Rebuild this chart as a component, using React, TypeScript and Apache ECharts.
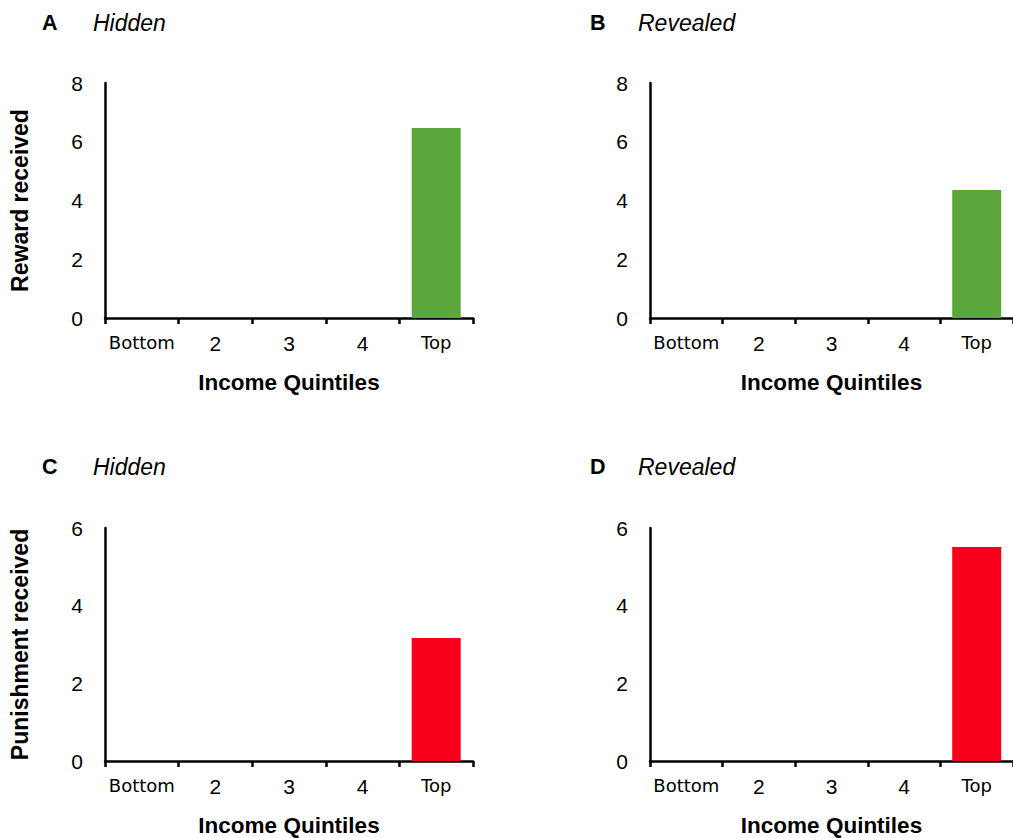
import React, { useEffect, useRef } from "react";
import * as echarts from "echarts";

const categories = ["Bottom", "2", "3", "4", "Top"];
const rewardHidden = [0, 0, 0, 0, 6.47];
const rewardRevealed = [0, 0, 0, 0, 4.36];
const punishHidden = [0, 0, 0, 0, 3.17];
const punishRevealed = [0, 0, 0, 0, 5.51];
const panelLetters = ["A", "B", "C", "D"];
const panelTitles = ["Hidden", "Revealed", "Hidden", "Revealed"];
const rewardTicksMax = 8;
const punishTicksMax = 6;

const GREEN = "#5BA73B";
const RED = "#F8001A";
const FONT = "'Liberation Sans', Arial, sans-serif";

export default function App() {
  const ref = useRef<HTMLDivElement>(null);
  useEffect(() => {
    document.body.style.margin = "0";
    const chart = echarts.init(ref.current!, null, { renderer: "svg" });
    const grids = [
      { left: 105, top: 83, width: 368, height: 235 },
      { left: 650, top: 83, width: 368, height: 235 },
      { left: 105, top: 528, width: 368, height: 233 },
      { left: 650, top: 528, width: 368, height: 234 },
    ];
    const data = [rewardHidden, rewardRevealed, punishHidden, punishRevealed];
    const colors = [GREEN, GREEN, RED, RED];
    const yNames = ["Reward received", "", "Punishment received", ""];
    const maxes = [rewardTicksMax, rewardTicksMax, punishTicksMax, punishTicksMax];

    const xAxis = grids.map((_, i) => ({
      type: "category",
      gridIndex: i,
      data: categories,
      boundaryGap: true,
      name: "Income Quintiles",
      nameLocation: "middle",
      nameGap: 53,
      nameTextStyle: { fontFamily: FONT, fontWeight: "bold", fontSize: 22.5, color: "#000" },
      axisLine: { show: true, lineStyle: { color: "#000", width: 2.5 } },
      axisTick: { show: true, length: 6, lineStyle: { color: "#000", width: 2.5 }, alignWithLabel: false },
      axisLabel: {
        margin: 15,
        interval: 0,
        formatter: (v: string) => (v === "Bottom" || v === "Top" ? `{w|${v}}` : `{n|${v}}`),
        rich: {
          w: { fontFamily: "'DejaVu Sans', Verdana, sans-serif", fontSize: 18, color: "#000" },
          n: { fontFamily: FONT, fontSize: 21, color: "#000" },
        },
      },
      splitLine: { show: false },
    }));

    const yAxis = grids.map((_, i) => ({
      type: "value",
      gridIndex: i,
      min: 0,
      max: maxes[i],
      interval: 2,
      name: yNames[i],
      nameLocation: "middle",
      nameGap: 74,
      nameRotate: 90,
      nameTextStyle: { fontFamily: FONT, fontWeight: "bold", fontSize: 23, color: "#000" },
      axisLine: { show: true, lineStyle: { color: "#000", width: 2.5 } },
      axisTick: { show: false },
      axisLabel: { margin: 22, fontFamily: FONT, fontSize: 21, color: "#000" },
      splitLine: { show: false },
    }));

    const series = data.map((d, i) => ({
      type: "bar",
      xAxisIndex: i,
      yAxisIndex: i,
      data: d,
      barWidth: 49,
      itemStyle: { color: colors[i] },
      z: 1,
    }));

    const titlePos = [
      { lx: 42, tx: 93, y: 23 },
      { lx: 590, tx: 638, y: 23 },
      { lx: 42, tx: 93, y: 467 },
      { lx: 590, tx: 638, y: 467 },
    ];
    const graphic: any[] = [];
    titlePos.forEach((p, i) => {
      graphic.push({
        type: "text",
        x: p.lx,
        y: p.y,
        style: {
          text: panelLetters[i],
          fontFamily: FONT,
          fontWeight: "bold",
          fontSize: 21.5,
          fill: "#000",
          verticalAlign: "middle",
        },
      });
      graphic.push({
        type: "text",
        x: p.tx,
        y: p.y,
        style: {
          text: panelTitles[i],
          fontFamily: FONT,
          fontStyle: "italic",
          fontSize: 23,
          fill: "#000",
          verticalAlign: "middle",
        },
      });
    });

    chart.setOption({
      animation: false,
      backgroundColor: "#fff",
      grid: grids,
      xAxis,
      yAxis,
      series,
      graphic,
    });
    return () => chart.dispose();
  }, []);
  return <div ref={ref} style={{ width: 1013, height: 838 }} />;
}
